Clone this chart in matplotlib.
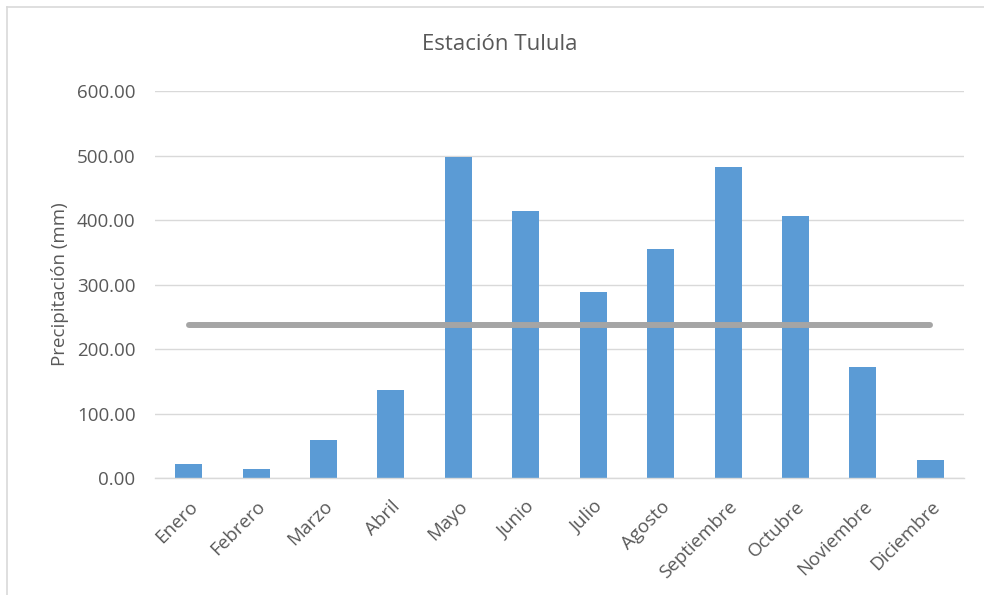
import matplotlib.pyplot as plt
import numpy as np
from matplotlib.lines import Line2D
from matplotlib.ticker import FormatStrFormatter

plt.rcParams["font.family"] = ["Open Sans", "DejaVu Sans"]

MESES = ["Enero", "Febrero", "Marzo", "Abril", "Mayo", "Junio", "Julio",
         "Agosto", "Septiembre", "Octubre", "Noviembre", "Diciembre"]
PRECIP_MM = [22.3, 14.6, 59.6, 136.6, 497.2, 413.4, 288.7, 354.9,
             482.2, 405.6, 172.9, 28.5]
PROMEDIO_MM = 236.5

BAR_BLUE = "#5B9BD5"
MEAN_GREY = "#A5A5A5"
GRID_GREY = "#D9D9D9"
TEXT_GREY = "#595959"

fig = plt.figure(figsize=(9.84, 5.95), dpi=100)
ax = fig.add_axes([0.1575, 0.1966, 0.8222, 0.6504])

x = np.arange(len(MESES))
ax.bar(x, PRECIP_MM, width=0.4, color=BAR_BLUE, zorder=2)
ax.plot(x, [PROMEDIO_MM] * len(MESES), color=MEAN_GREY, linewidth=4.3,
        solid_capstyle="round", zorder=3)

ax.set_xlim(-0.5, len(MESES) - 0.5)
ax.set_ylim(0, 600)
ax.set_yticks(np.arange(0, 601, 100))
ax.yaxis.set_major_formatter(FormatStrFormatter("%.2f"))
ax.grid(axis="y", color=GRID_GREY, linewidth=1.0, zorder=0)
ax.set_axisbelow(True)

for side in ["top", "right", "left"]:
    ax.spines[side].set_visible(False)
ax.spines["bottom"].set_color(GRID_GREY)
ax.spines["bottom"].set_linewidth(1.0)

ax.set_xticks(x)
ax.set_xticklabels(MESES, rotation=45, ha="right", va="top",
                   rotation_mode="anchor")
ax.tick_params(axis="x", length=0, pad=14, labelsize=13.5, colors=TEXT_GREY)
ax.tick_params(axis="y", length=0, pad=14, labelsize=13.5, colors=TEXT_GREY)

ax.set_ylabel("Precipitación (mm)", fontsize=13.5, color=TEXT_GREY, labelpad=6)
fig.text(0.508, 0.926, "Estación Tulula", ha="center", va="center",
         fontsize=16, color=TEXT_GREY)

# chart frame, only its left and top edges fall inside the canvas
frame_kw = dict(color=GRID_GREY, linewidth=1.2, transform=fig.transFigure)
fig.add_artist(Line2D([0.0076, 0.0076], [0.0, 0.989], **frame_kw))
fig.add_artist(Line2D([0.0076, 1.0], [0.989, 0.989], **frame_kw))

fig.savefig("out.png", dpi=100)
